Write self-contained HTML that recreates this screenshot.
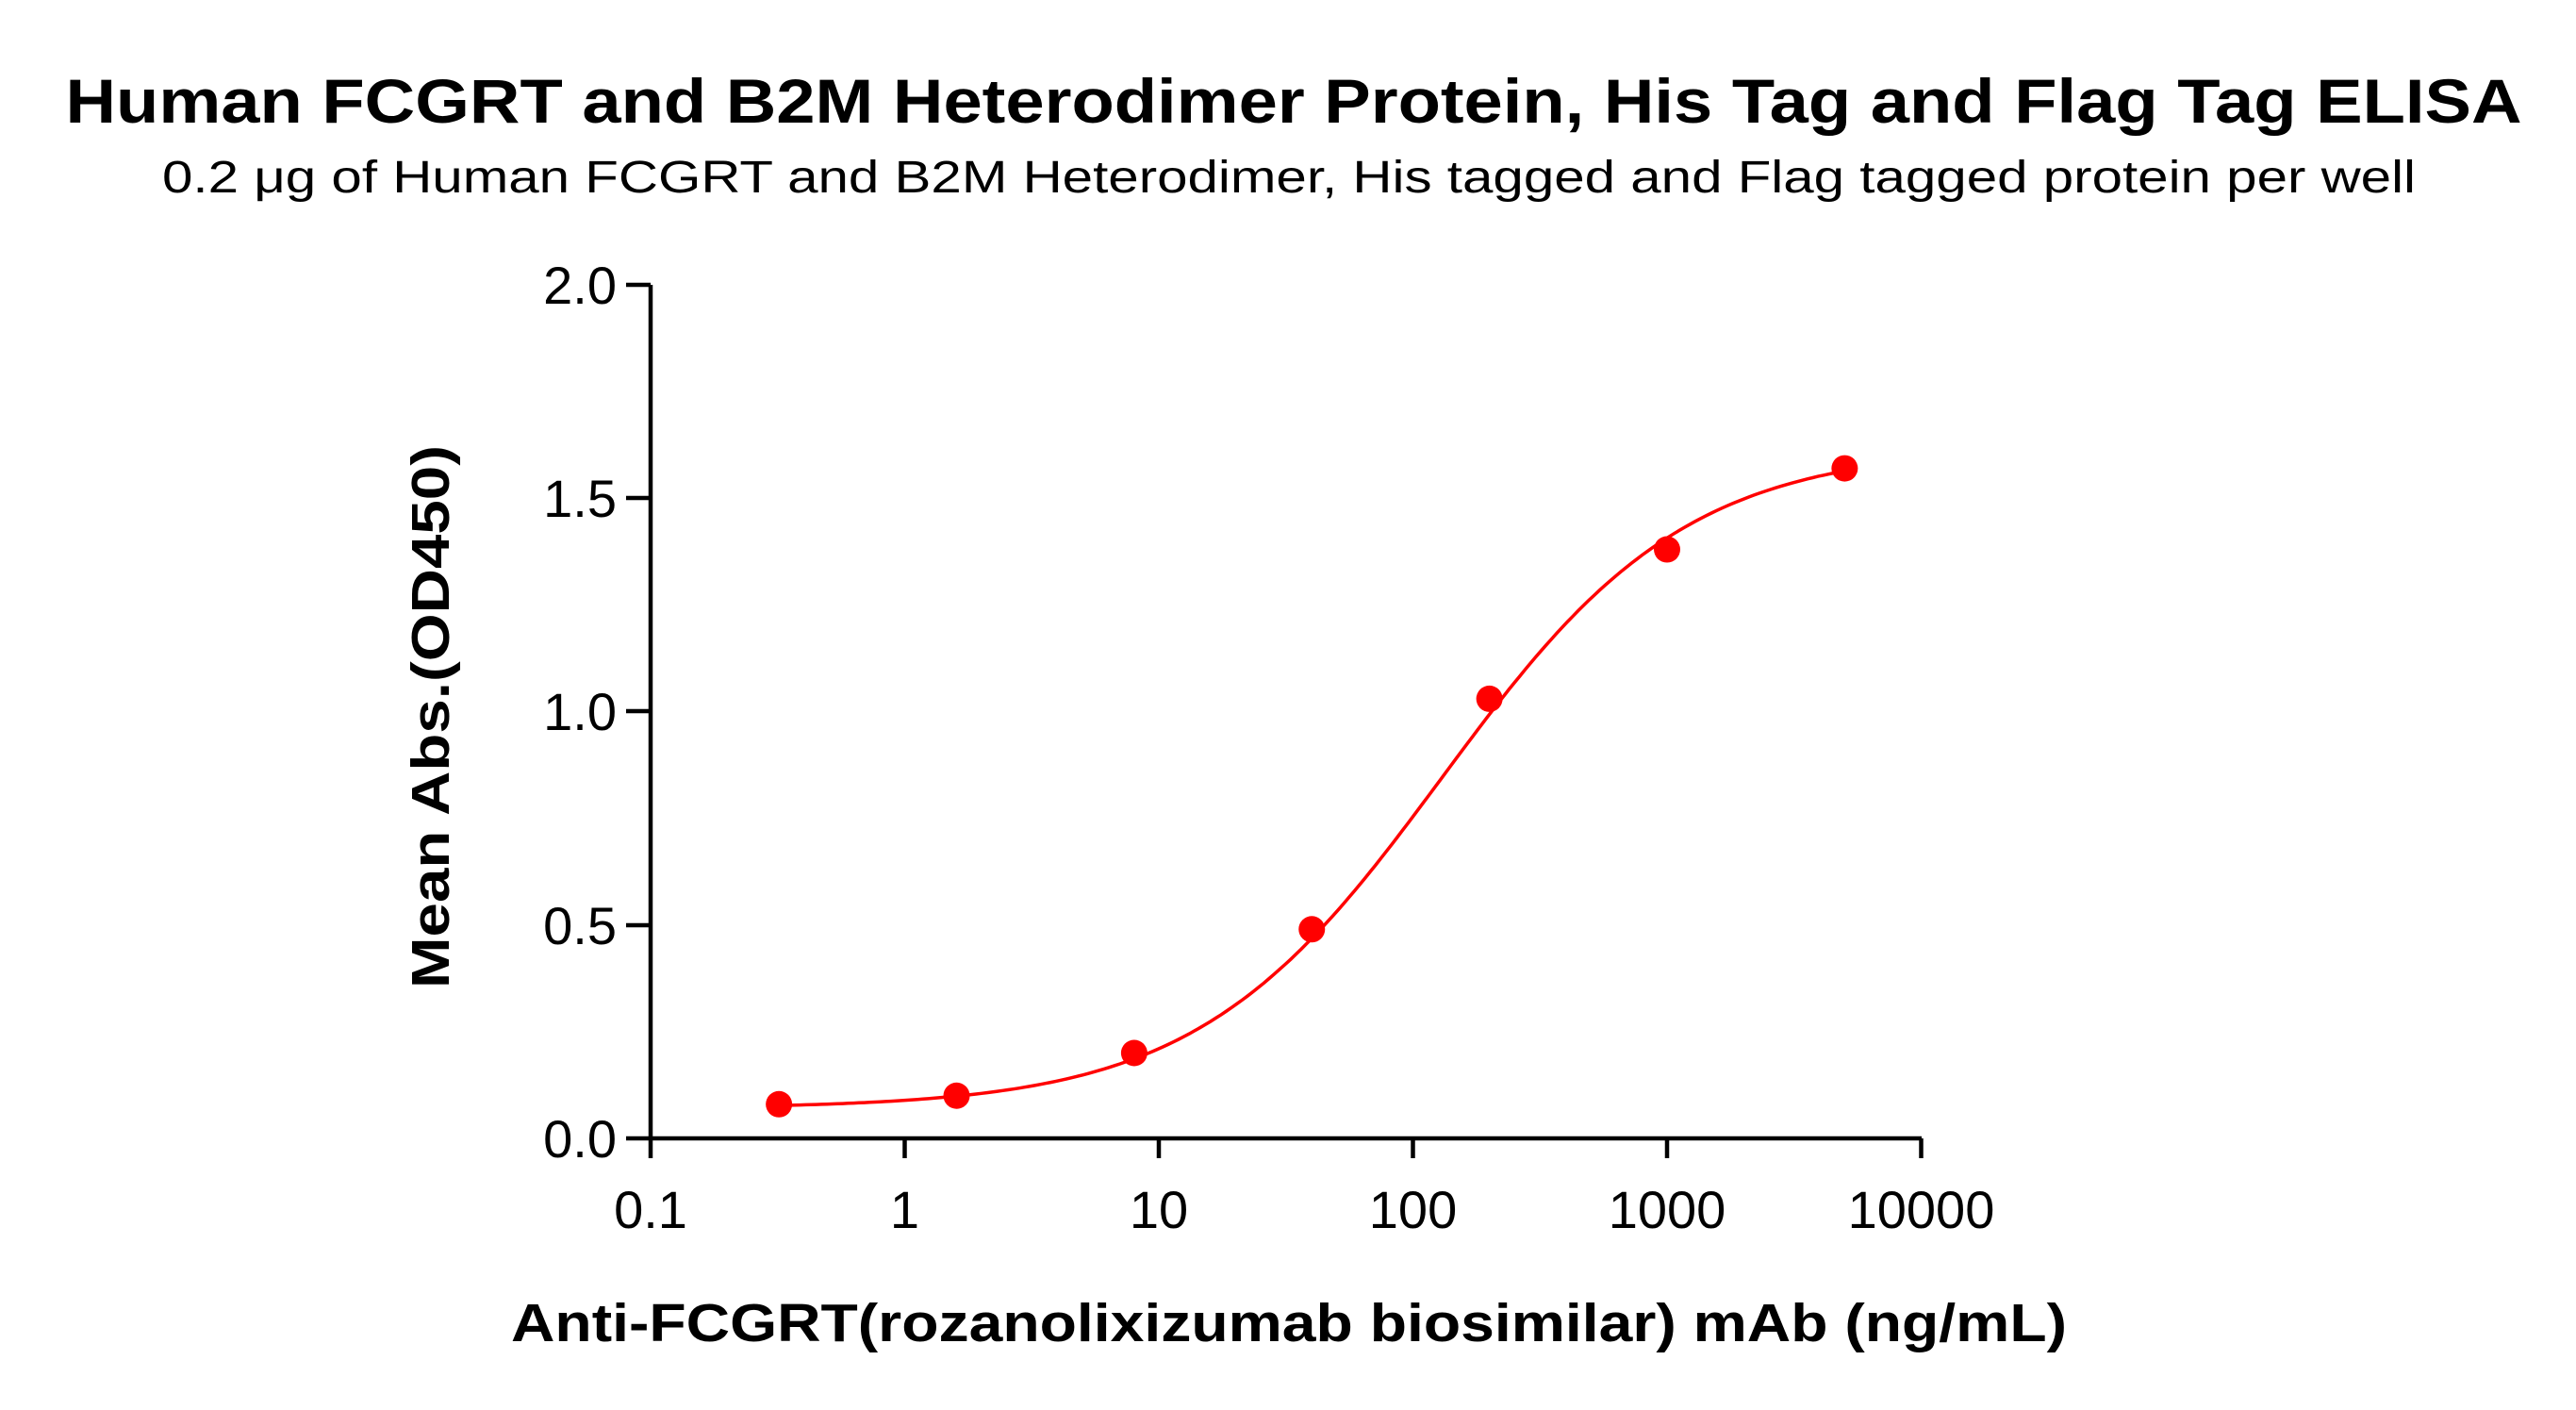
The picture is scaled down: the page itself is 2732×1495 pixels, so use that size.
<!DOCTYPE html>
<html><head><meta charset="utf-8"><style>html,body{margin:0;padding:0;background:#fff}svg{display:block}</style></head>
<body>
<svg id="s" width="2732" height="1495" xmlns="http://www.w3.org/2000/svg" font-family="Liberation Sans, Arial, sans-serif">
<text x="1372" y="130" font-size="66" font-weight="bold" text-anchor="middle" textLength="2605" lengthAdjust="spacingAndGlyphs">Human FCGRT and B2M Heterodimer Protein, His Tag and Flag Tag ELISA</text>
<text x="1367" y="204" font-size="48" text-anchor="middle" textLength="2390" lengthAdjust="spacingAndGlyphs">0.2 μg of Human FCGRT and B2M Heterodimer, His tagged and Flag tagged protein per well</text>
<g transform="translate(0,-4)">
<g stroke="#000" stroke-width="4.5" fill="none">
<line x1="690" y1="306" x2="690" y2="1232"/>
<line x1="688" y1="1211" x2="2038" y2="1211"/>
<line x1="664" y1="306" x2="690" y2="306"/>
<line x1="664" y1="532" x2="690" y2="532"/>
<line x1="664" y1="758" x2="690" y2="758"/>
<line x1="664" y1="985" x2="690" y2="985"/>
<line x1="664" y1="1211" x2="690" y2="1211"/>
<line x1="959.5" y1="1211" x2="959.5" y2="1232"/>
<line x1="1229" y1="1211" x2="1229" y2="1232"/>
<line x1="1498.5" y1="1211" x2="1498.5" y2="1232"/>
<line x1="1768" y1="1211" x2="1768" y2="1232"/>
<line x1="2037.5" y1="1211" x2="2037.5" y2="1232"/>
</g>
<g font-size="56" text-anchor="end">
<text x="654" y="326">2.0</text>
<text x="654" y="552">1.5</text>
<text x="654" y="778">1.0</text>
<text x="654" y="1005">0.5</text>
<text x="654" y="1231">0.0</text>
</g>
<g font-size="56" text-anchor="middle">
<text x="690" y="1306">0.1</text>
<text x="959.5" y="1306">1</text>
<text x="1229" y="1306">10</text>
<text x="1498.5" y="1306">100</text>
<text x="1768" y="1306">1000</text>
<text x="2037.5" y="1306">10000</text>
</g>
<path id="curve" fill="none" stroke="#f00" stroke-width="3.5"/>
<g id="pts" fill="#f00"></g>
</g>
<text x="1367" y="1422" font-size="57" font-weight="bold" text-anchor="middle" textLength="1650" lengthAdjust="spacingAndGlyphs">Anti-FCGRT(rozanolixizumab biosimilar) mAb (ng/mL)</text>
<text transform="translate(476,760) rotate(-90)" font-size="57" font-weight="bold" text-anchor="middle" textLength="576" lengthAdjust="spacingAndGlyphs">Mean Abs.(OD450)</text>
</svg>
<script>
function X(c){return 690+(Math.log10(c)+1)*269.5}
function Y(v){return 1211-v*452.5}
function f(c){return 0.07+1.55/(1+Math.pow(130/c,0.9))}
var d="";for(var i=0;i<=200;i++){var lc=Math.log10(0.32)+(Math.log10(5000)-Math.log10(0.32))*i/200;var c=Math.pow(10,lc);d+=(i?"L":"M")+X(c).toFixed(1)+" "+Y(f(c)).toFixed(1)}
document.getElementById("curve").setAttribute("d",d);
var P=[[0.32,0.08],[1.6,0.10],[8,0.20],[40,0.49],[200,1.03],[1000,1.38],[5000,1.57]],g=document.getElementById("pts"),h="";
P.forEach(function(p){h+='<circle cx="'+X(p[0])+'" cy="'+Y(p[1])+'" r="14"/>'});g.innerHTML=h;
</script>
</body></html>
